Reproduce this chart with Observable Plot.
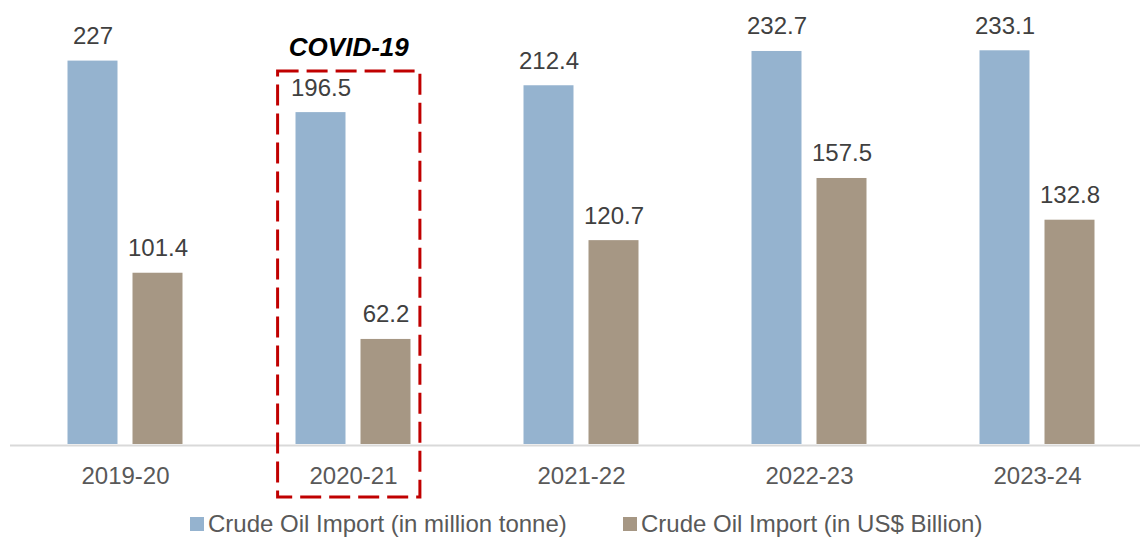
<!DOCTYPE html>
<html>
<head>
<meta charset="utf-8">
<script src="https://cdn.jsdelivr.net/npm/d3@7"></script>
<script src="https://cdn.jsdelivr.net/npm/@observablehq/plot@0.6"></script>
<style>
  html, body { margin: 0; padding: 0; background: #fff; }
  body { width: 1140px; height: 537px; overflow: hidden; font-family: "Liberation Sans", Arial, sans-serif; }
  #chart svg { display: block; }
  #legend { position: relative; height: 32px; font-size: 24px; color: #595959; }
  .item { position: absolute; top: 3px; height: 32px; line-height: 32px; display: flex; align-items: center; white-space: nowrap; }
  .sw { width: 14px; height: 14px; margin-right: 4px; }
</style>
</head>
<body>
<div id="chart"></div>
<div id="legend"></div>
<script>
const years = ["2019-20", "2020-21", "2021-22", "2022-23", "2023-24"];
const tonnes = [227, 196.5, 212.4, 232.7, 233.1];
const usd = [101.4, 62.2, 120.7, 157.5, 132.8];
const seriesNames = ["Crude Oil Import (in million tonne)", "Crude Oil Import (in US$ Billion)"];
const seriesColors = ["#95B3CF", "#A69784"];
const covidYear = "2020-21";
const covidLabel = "COVID-19";

const tonneData = years.map((y, i) => ({year: y, value: tonnes[i]}));
const usdData = years.map((y, i) => ({year: y, value: usd[i]}));
const covidData = tonneData.filter(d => d.year === covidYear);

const font = "'Liberation Sans', Arial, sans-serif";
const off = 32.5;

const chart = Plot.plot({
  width: 1140,
  height: 505,
  marginLeft: 10,
  marginRight: 0,
  marginTop: 0,
  marginBottom: 61,
  style: {fontFamily: font, fontSize: "24px", background: "#fff"},
  x: {type: "band", domain: years, range: [10.5, 1151], paddingInner: 0.781, paddingOuter: 0.3905, align: 0.5, label: null},
  y: {domain: [0, 260], range: [444, 444 - 260 * 1.689], axis: null},
  marks: [
    Plot.ruleY([0], {stroke: "#d9d9d9", strokeWidth: 2, dy: 1}),
    Plot.barY(tonneData, {x: "year", y: "value", fill: seriesColors[0], dx: -off}),
    Plot.barY(usdData, {x: "year", y: "value", fill: seriesColors[1], dx: off}),
    Plot.text(tonneData, {x: "year", y: "value", text: d => String(d.value), dx: -off, dy: -17, lineAnchor: "bottom", fill: "#404040", fontSize: 24}),
    Plot.text(usdData, {x: "year", y: "value", text: d => String(d.value), dx: off, dy: -17, lineAnchor: "bottom", fill: "#404040", fontSize: 24}),
    Plot.rect(covidData, {x: "year", y1: 0, y2: "value", fill: "none", stroke: "#C00000", strokeWidth: 3, strokeDasharray: "21,8",
      insetLeft: -50.4, insetRight: -41.9, insetTop: -41.1, insetBottom: -53}),
    Plot.text(covidData, {x: "year", y: "value", text: () => covidLabel, dx: -4.7, dy: -56.6, lineAnchor: "bottom",
      fill: "#000", fontSize: 26, fontWeight: "bold", fontStyle: "italic"}),
    Plot.axisX({tickSize: 0, tickPadding: 22, fontSize: 24, color: "#595959", label: null})
  ]
});
document.getElementById("chart").appendChild(chart);

const legend = document.getElementById("legend");
const lefts = [190, 623];
seriesNames.forEach((name, i) => {
  const item = document.createElement("div");
  item.className = "item";
  item.style.left = lefts[i] + "px";
  const sw = document.createElement("span");
  sw.className = "sw";
  sw.style.background = seriesColors[i];
  const t = document.createElement("span");
  t.textContent = name;
  item.appendChild(sw);
  item.appendChild(t);
  legend.appendChild(item);
});
</script>
</body>
</html>
